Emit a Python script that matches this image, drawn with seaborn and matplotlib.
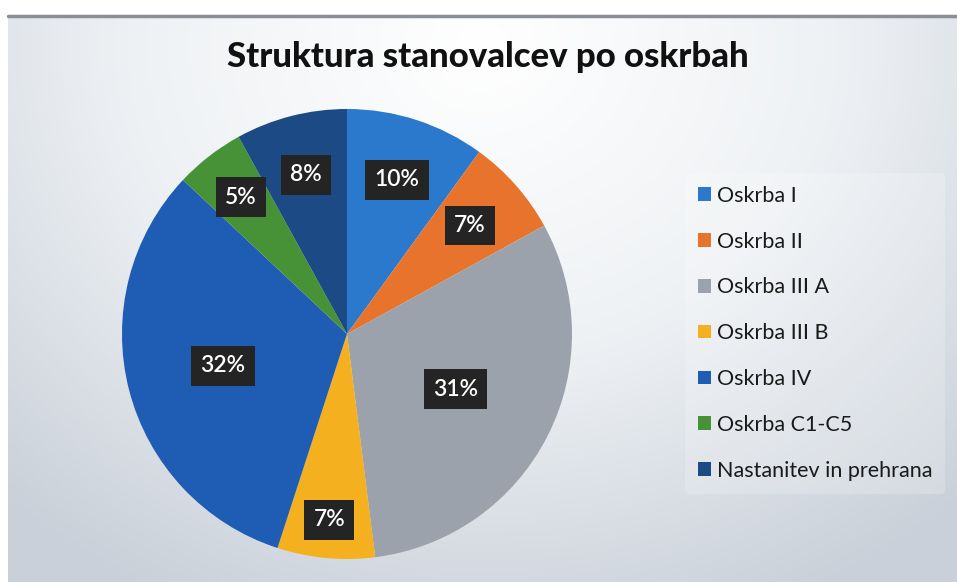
import numpy as np
import matplotlib
matplotlib.use("Agg")
import matplotlib.pyplot as plt
import seaborn as sns

categories = ["Oskrba I", "Oskrba II", "Oskrba III A", "Oskrba III B",
              "Oskrba IV", "Oskrba C1-C5", "Nastanitev in prehrana"]
shares = [10, 7, 31, 7, 32, 5, 8]
title = "Struktura stanovalcev po oskrbah"

colors = sns.color_palette(["#2a79cc", "#e8732c", "#9ba2ab", "#f5b020",
                            "#1f5cb4", "#479237", "#1b4a85"])
# how far from the centre each percentage box sits (fraction of radius)
label_r = [0.72, 0.73, 0.54, 0.83, 0.57, 0.77, 0.73]

sns.set_theme(style="white")
plt.rcParams["font.family"] = ["Lato", "DejaVu Sans"]

fig = plt.figure(figsize=(9.57, 5.82), dpi=100)
fig.patch.set_facecolor("white")

# soft grey gradient behind the chart
bg = fig.add_axes([8 / 957, 0, 1 - 8 / 957, 566 / 582])
yy, xx = np.mgrid[0:1:300j, 0:1:500j]
d = np.sqrt(((xx - 0.5) / 0.75) ** 2 + ((yy - 0.05) / 1.1) ** 2)
bg.imshow(d, cmap=sns.blend_palette(["#ffffff", "#eef1f4", "#c9d0d9"], as_cmap=True),
          aspect="auto", extent=[0, 1, 0, 1], origin="upper", vmin=0, vmax=1)
bg.set_axis_off()
fig.add_artist(plt.Line2D([8 / 957, 1], [566 / 582, 566 / 582], color="#8a8f95", lw=2.5))

fig.text(488 / 957, 1 - 57 / 582, title, ha="center", va="center",
         fontsize=25, fontweight="black", color="#111111")

ax = fig.add_axes([122 / 957, 23 / 582, 450 / 957, 450 / 582])
wedges, _ = ax.pie(shares, colors=colors, startangle=90, counterclock=False,
                   wedgeprops=dict(linewidth=0))
ax.set_xlim(-1, 1)
ax.set_ylim(-1, 1)

total = sum(shares)
start = 90.0
for v, r in zip(shares, label_r):
    span = 360.0 * v / total
    mid = np.deg2rad(start - span / 2)
    start -= span
    ax.text(r * np.cos(mid), r * np.sin(mid), f"{v}%", ha="center", va="center",
            fontsize=16.5, color="white", fontweight="semibold",
            bbox=dict(boxstyle="square,pad=0.4", fc="#242424", ec="none"))

leg = fig.legend(wedges, categories, loc="upper left",
                 bbox_to_anchor=(674 / 957, 1 - 162 / 582),
                 fontsize=15.5, frameon=True, handlelength=0.6, handleheight=0.6,
                 handletextpad=0.3, labelspacing=1.2, borderpad=0.6)
leg.get_frame().set_facecolor("white")
leg.get_frame().set_alpha(0.2)
leg.get_frame().set_edgecolor("none")
for t in leg.get_texts():
    t.set_color("#1a1a1a")

fig.savefig("out.png", dpi=100)
